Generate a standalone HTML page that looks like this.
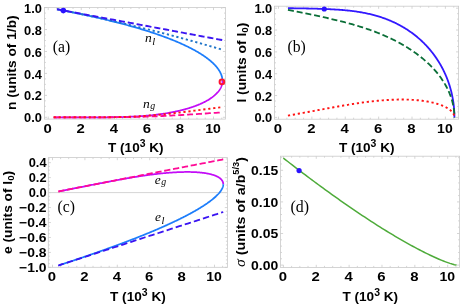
<!DOCTYPE html>
<html><head><meta charset="utf-8"><title>vdW</title>
<style>html,body{margin:0;padding:0;background:#fff;}svg{display:block;}</style>
</head><body>
<svg width="463" height="305" viewBox="0 0 463 305" style="will-change:transform">
<rect width="463" height="305" fill="#ffffff"/>
<path d="M48.20 119.10 v-2.60 M48.20 7.50 v2.60 M56.47 119.10 v-1.50 M56.47 7.50 v1.50 M64.73 119.10 v-1.50 M64.73 7.50 v1.50 M73.00 119.10 v-1.50 M73.00 7.50 v1.50 M81.26 119.10 v-2.60 M81.26 7.50 v2.60 M89.53 119.10 v-1.50 M89.53 7.50 v1.50 M97.79 119.10 v-1.50 M97.79 7.50 v1.50 M106.06 119.10 v-1.50 M106.06 7.50 v1.50 M114.32 119.10 v-2.60 M114.32 7.50 v2.60 M122.59 119.10 v-1.50 M122.59 7.50 v1.50 M130.85 119.10 v-1.50 M130.85 7.50 v1.50 M139.12 119.10 v-1.50 M139.12 7.50 v1.50 M147.38 119.10 v-2.60 M147.38 7.50 v2.60 M155.65 119.10 v-1.50 M155.65 7.50 v1.50 M163.91 119.10 v-1.50 M163.91 7.50 v1.50 M172.18 119.10 v-1.50 M172.18 7.50 v1.50 M180.44 119.10 v-2.60 M180.44 7.50 v2.60 M188.70 119.10 v-1.50 M188.70 7.50 v1.50 M196.97 119.10 v-1.50 M196.97 7.50 v1.50 M205.24 119.10 v-1.50 M205.24 7.50 v1.50 M213.50 119.10 v-2.60 M213.50 7.50 v2.60 M221.76 119.10 v-1.50 M221.76 7.50 v1.50 M44.40 117.30 h2.60 M225.50 117.30 h-2.60 M44.40 111.81 h1.50 M225.50 111.81 h-1.50 M44.40 106.33 h1.50 M225.50 106.33 h-1.50 M44.40 100.84 h1.50 M225.50 100.84 h-1.50 M44.40 95.36 h2.60 M225.50 95.36 h-2.60 M44.40 89.88 h1.50 M225.50 89.88 h-1.50 M44.40 84.39 h1.50 M225.50 84.39 h-1.50 M44.40 78.91 h1.50 M225.50 78.91 h-1.50 M44.40 73.42 h2.60 M225.50 73.42 h-2.60 M44.40 67.94 h1.50 M225.50 67.94 h-1.50 M44.40 62.45 h1.50 M225.50 62.45 h-1.50 M44.40 56.96 h1.50 M225.50 56.96 h-1.50 M44.40 51.48 h2.60 M225.50 51.48 h-2.60 M44.40 45.99 h1.50 M225.50 45.99 h-1.50 M44.40 40.51 h1.50 M225.50 40.51 h-1.50 M44.40 35.02 h1.50 M225.50 35.02 h-1.50 M44.40 29.54 h2.60 M225.50 29.54 h-2.60 M44.40 24.05 h1.50 M225.50 24.05 h-1.50 M44.40 18.57 h1.50 M225.50 18.57 h-1.50 M44.40 13.08 h1.50 M225.50 13.08 h-1.50 M44.40 7.60 h2.60 M225.50 7.60 h-2.60" stroke="#cccccc" stroke-width="0.8" fill="none"/>
<rect x="44.40" y="7.50" width="181.10" height="111.60" fill="none" stroke="#cacaca" stroke-width="0.8"/>
<path d="M53.65 117.30 L54.96 117.30 L56.25 117.30 L57.54 117.30 L58.83 117.30 L60.11 117.30 L61.38 117.30 L62.65 117.30 L63.92 117.30 L65.18 117.30 L66.44 117.30 L67.69 117.30 L68.93 117.30 L70.17 117.30 L71.41 117.30 L72.64 117.30 L73.86 117.30 L75.08 117.30 L76.30 117.30 L77.51 117.30 L78.71 117.30 L79.91 117.30 L81.11 117.30 L82.30 117.30 L83.48 117.30 L84.66 117.30 L85.84 117.30 L87.01 117.30 L88.17 117.30 L89.33 117.30 L90.49 117.30 L91.64 117.30 L92.78 117.30 L93.92 117.30 L95.06 117.30 L96.19 117.29 L97.31 117.29 L98.43 117.29 L99.55 117.29 L100.66 117.28 L101.76 117.28 L102.86 117.28 L103.95 117.27 L105.04 117.27 L106.13 117.26 L107.21 117.25 L108.28 117.25 L109.35 117.24 L110.41 117.23 L111.47 117.22 L112.53 117.20 L113.58 117.19 L114.62 117.18 L115.66 117.16 L116.69 117.14 L117.72 117.12 L118.75 117.10 L119.77 117.08 L120.78 117.06 L121.79 117.03 L122.79 117.01 L123.79 116.98 L124.79 116.95 L125.77 116.92 L126.76 116.88 L127.74 116.85 L128.71 116.81 L129.68 116.77 L130.64 116.73 L131.60 116.69 L132.55 116.65 L133.50 116.60 L134.45 116.55 L135.38 116.50 L136.32 116.45 L137.25 116.39 L138.17 116.34 L139.09 116.28 L140.00 116.22 L140.91 116.16 L141.81 116.09 L142.71 116.03 L143.60 115.96 L144.49 115.89 L145.38 115.82 L146.25 115.74 L147.13 115.67 L147.99 115.59 L148.86 115.51 L149.72 115.42 L150.57 115.34 L151.42 115.25 L152.26 115.17 L153.10 115.07 L153.93 114.98 L154.76 114.89 L155.58 114.79 L156.40 114.69 L157.21 114.59 L158.02 114.49 L158.82 114.39 L159.62 114.28 L160.41 114.17 L161.20 114.06 L161.98 113.95 L162.76 113.84 L163.53 113.72 L164.30 113.61 L165.06 113.49 L165.82 113.36 L166.57 113.24 L167.32 113.12 L168.06 112.99 L168.80 112.86 L169.53 112.73 L170.26 112.60 L170.98 112.47 L171.69 112.33 L172.41 112.19 L173.11 112.06 L173.82 111.92 L174.51 111.77 L175.20 111.63 L175.89 111.48 L176.57 111.34 L177.25 111.19 L177.92 111.04 L178.59 110.88 L179.25 110.73 L179.91 110.58 L180.56 110.42 L181.21 110.26 L181.85 110.10 L182.48 109.94 L183.11 109.78 L183.74 109.61 L184.36 109.44 L184.98 109.28 L185.59 109.11 L186.20 108.94 L186.80 108.76 L187.39 108.59 L187.99 108.42 L188.57 108.24 L189.15 108.06 L189.73 107.88 L190.30 107.70 L190.87 107.52 L191.43 107.34 L191.98 107.15 L192.53 106.96 L193.08 106.78 L193.62 106.59 L194.16 106.40 L194.69 106.21 L195.21 106.01 L195.73 105.82 L196.25 105.62 L196.76 105.43 L197.27 105.23 L197.77 105.03 L198.26 104.83 L198.75 104.63 L199.24 104.43 L199.72 104.22 L200.20 104.02 L200.67 103.81 L201.13 103.60 L201.59 103.39 L202.05 103.18 L202.50 102.97 L202.94 102.76 L203.38 102.55 L203.82 102.33 L204.25 102.12 L204.67 101.90 L205.09 101.68 L205.51 101.47 L205.92 101.25 L206.32 101.03 L206.72 100.80 L207.12 100.58 L207.51 100.36 L207.89 100.13 L208.27 99.91 L208.65 99.68 L209.02 99.45 L209.38 99.22 L209.74 98.99 L210.10 98.76 L210.45 98.53 L210.79 98.30 L211.13 98.06 L211.47 97.83 L211.80 97.60 L212.12 97.36 L212.44 97.12 L212.75 96.88 L213.06 96.64 L213.37 96.41 L213.67 96.16 L213.96 95.92 L214.25 95.68 L214.54 95.44 L214.82 95.19 L215.09 94.95 L215.36 94.70 L215.62 94.46 L215.88 94.21 L216.14 93.96 L216.39 93.71 L216.63 93.46 L216.87 93.21 L217.10 92.96 L217.33 92.71 L217.56 92.46 L217.77 92.21 L217.99 91.95 L218.20 91.70 L218.40 91.44 L218.60 91.19 L218.79 90.93 L218.98 90.67 L219.17 90.41 L219.34 90.15 L219.52 89.90 L219.69 89.64 L219.85 89.37 L220.01 89.11 L220.16 88.85 L220.31 88.59 L220.45 88.33 L220.59 88.06 L220.73 87.80 L220.85 87.53 L220.98 87.27 L221.10 87.00 L221.21 86.73 L221.32 86.47 L221.42 86.20 L221.52 85.93 L221.61 85.66 L221.70 85.39 L221.78 85.12 L221.86 84.85 L221.93 84.58 L222.00 84.31 L222.06 84.04 L222.12 83.76 L222.17 83.49 L222.22 83.22 L222.27 82.94 L222.30 82.67 L222.34 82.39 L222.36 82.12 L222.39 81.84 L222.40 81.56 L222.42 81.28 L222.42 81.00 L222.43 80.74" fill="none" stroke="#c30cf7" stroke-width="1.75" stroke-linecap="butt" stroke-linejoin="round" />
<path d="M57.54 9.37 L58.83 9.62 L60.11 9.87 L61.38 10.12 L62.65 10.37 L63.92 10.62 L65.18 10.87 L66.44 11.11 L67.69 11.36 L68.93 11.61 L70.17 11.86 L71.41 12.12 L72.64 12.37 L73.86 12.62 L75.08 12.87 L76.30 13.12 L77.51 13.37 L78.71 13.62 L79.91 13.88 L81.11 14.13 L82.30 14.38 L83.48 14.63 L84.66 14.89 L85.84 15.14 L87.01 15.39 L88.17 15.65 L89.33 15.90 L90.49 16.16 L91.64 16.41 L92.78 16.67 L93.92 16.92 L95.06 17.18 L96.19 17.43 L97.31 17.69 L98.43 17.95 L99.55 18.20 L100.66 18.46 L101.76 18.72 L102.86 18.98 L103.95 19.24 L105.04 19.49 L106.13 19.75 L107.21 20.01 L108.28 20.27 L109.35 20.53 L110.41 20.79 L111.47 21.05 L112.53 21.31 L113.58 21.58 L114.62 21.84 L115.66 22.10 L116.69 22.36 L117.72 22.62 L118.75 22.89 L119.77 23.15 L120.78 23.42 L121.79 23.68 L122.79 23.95 L123.79 24.21 L124.79 24.48 L125.77 24.74 L126.76 25.01 L127.74 25.27 L128.71 25.54 L129.68 25.81 L130.64 26.08 L131.60 26.35 L132.55 26.61 L133.50 26.88 L134.45 27.15 L135.38 27.42 L136.32 27.69 L137.25 27.96 L138.17 28.23 L139.09 28.50 L140.00 28.78 L140.91 29.05 L141.81 29.32 L142.71 29.59 L143.60 29.87 L144.49 30.14 L145.38 30.41 L146.25 30.69 L147.13 30.96 L147.99 31.24 L148.86 31.51 L149.72 31.79 L150.57 32.06 L151.42 32.34 L152.26 32.62 L153.10 32.89 L153.93 33.17 L154.76 33.45 L155.58 33.73 L156.40 34.01 L157.21 34.28 L158.02 34.56 L158.82 34.84 L159.62 35.12 L160.41 35.40 L161.20 35.68 L161.98 35.96 L162.76 36.24 L163.53 36.52 L164.30 36.81 L165.06 37.09 L165.82 37.37 L166.57 37.65 L167.32 37.94 L168.06 38.22 L168.80 38.50 L169.53 38.79 L170.26 39.07 L170.98 39.35 L171.69 39.64 L172.41 39.92 L173.11 40.21 L173.82 40.49 L174.51 40.78 L175.20 41.06 L175.89 41.35 L176.57 41.64 L177.25 41.92 L177.92 42.21 L178.59 42.50 L179.25 42.78 L179.91 43.07 L180.56 43.36 L181.21 43.65 L181.85 43.93 L182.48 44.22 L183.11 44.51 L183.74 44.80 L184.36 45.09 L184.98 45.38 L185.59 45.67 L186.20 45.96 L186.80 46.25 L187.39 46.54 L187.99 46.83 L188.57 47.12 L189.15 47.41 L189.73 47.70 L190.30 47.99 L190.87 48.28 L191.43 48.57 L191.98 48.86 L192.53 49.15 L193.08 49.44 L193.62 49.74 L194.16 50.03 L194.69 50.32 L195.21 50.61 L195.73 50.90 L196.25 51.20 L196.76 51.49 L197.27 51.78 L197.77 52.07 L198.26 52.37 L198.75 52.66 L199.24 52.95 L199.72 53.24 L200.20 53.54 L200.67 53.83 L201.13 54.12 L201.59 54.42 L202.05 54.71 L202.50 55.00 L202.94 55.30 L203.38 55.59 L203.82 55.88 L204.25 56.18 L204.67 56.47 L205.09 56.76 L205.51 57.06 L205.92 57.35 L206.32 57.64 L206.72 57.94 L207.12 58.23 L207.51 58.52 L207.89 58.82 L208.27 59.11 L208.65 59.41 L209.02 59.70 L209.38 59.99 L209.74 60.29 L210.10 60.58 L210.45 60.87 L210.79 61.17 L211.13 61.46 L211.47 61.75 L211.80 62.05 L212.12 62.34 L212.44 62.63 L212.75 62.93 L213.06 63.22 L213.37 63.51 L213.67 63.80 L213.96 64.10 L214.25 64.39 L214.54 64.68 L214.82 64.97 L215.09 65.27 L215.36 65.56 L215.62 65.85 L215.88 66.14 L216.14 66.43 L216.39 66.73 L216.63 67.02 L216.87 67.31 L217.10 67.60 L217.33 67.89 L217.56 68.18 L217.77 68.47 L217.99 68.76 L218.20 69.05 L218.40 69.34 L218.60 69.63 L218.79 69.92 L218.98 70.21 L219.17 70.50 L219.34 70.79 L219.52 71.08 L219.69 71.37 L219.85 71.66 L220.01 71.95 L220.16 72.23 L220.31 72.52 L220.45 72.81 L220.59 73.10 L220.73 73.38 L220.85 73.67 L220.98 73.96 L221.10 74.24 L221.21 74.53 L221.32 74.81 L221.42 75.10 L221.52 75.38 L221.61 75.67 L221.70 75.95 L221.78 76.24 L221.86 76.52 L221.93 76.80 L222.00 77.09 L222.06 77.37 L222.12 77.65 L222.17 77.93 L222.22 78.22 L222.27 78.50 L222.30 78.78 L222.34 79.06 L222.36 79.34 L222.39 79.62 L222.40 79.90 L222.42 80.18 L222.42 80.46 L222.43 80.73" fill="none" stroke="#1c7dfb" stroke-width="1.75" stroke-linecap="butt" stroke-linejoin="round" />
<path d="M53.65 117.30 L55.79 117.30 L57.93 117.30 L60.06 117.30 L62.20 117.30 L64.34 117.30 L66.47 117.30 L68.61 117.30 L70.75 117.30 L72.88 117.30 L75.02 117.30 L77.15 117.30 L79.29 117.30 L81.43 117.30 L83.56 117.30 L85.70 117.30 L87.84 117.30 L89.97 117.30 L92.11 117.30 L94.25 117.30 L96.38 117.30 L98.52 117.30 L100.65 117.29 L102.79 117.29 L104.93 117.29 L107.06 117.28 L109.20 117.27 L111.34 117.26 L113.47 117.25 L115.61 117.24 L117.75 117.22 L119.88 117.20 L122.02 117.18 L124.15 117.16 L126.29 117.13 L128.43 117.09 L130.56 117.06 L132.70 117.02 L134.84 116.97 L136.97 116.92 L139.11 116.87 L141.25 116.81 L143.38 116.75 L145.52 116.69 L147.65 116.62 L149.79 116.54 L151.93 116.46 L154.06 116.38 L156.20 116.29 L158.34 116.20 L160.47 116.11 L162.61 116.01 L164.74 115.91 L166.88 115.81 L169.02 115.70 L171.15 115.59 L173.29 115.47 L175.43 115.36 L177.56 115.24 L179.70 115.11 L181.84 114.99 L183.97 114.86 L186.11 114.73 L188.24 114.60 L190.38 114.47 L192.52 114.34 L194.65 114.20 L196.79 114.06 L198.93 113.93 L201.06 113.79 L203.20 113.65 L205.34 113.50 L207.47 113.36 L209.61 113.22 L211.74 113.08 L213.88 112.93 L216.02 112.79 L218.15 112.65 L220.29 112.50 L222.43 112.36" fill="none" stroke="#ff0a96" stroke-width="1.8" stroke-linecap="butt" stroke-linejoin="round" stroke-dasharray="6 2.9" />
<path d="M53.65 117.30 L55.79 117.30 L57.93 117.30 L60.06 117.30 L62.20 117.30 L64.34 117.30 L66.47 117.30 L68.61 117.30 L70.75 117.30 L72.88 117.30 L75.02 117.30 L77.15 117.30 L79.29 117.30 L81.43 117.30 L83.56 117.30 L85.70 117.30 L87.84 117.30 L89.97 117.30 L92.11 117.30 L94.25 117.30 L96.38 117.29 L98.52 117.29 L100.65 117.28 L102.79 117.28 L104.93 117.27 L107.06 117.25 L109.20 117.24 L111.34 117.21 L113.47 117.19 L115.61 117.16 L117.75 117.12 L119.88 117.07 L122.02 117.02 L124.15 116.96 L126.29 116.89 L128.43 116.82 L130.56 116.73 L132.70 116.64 L134.84 116.54 L136.97 116.43 L139.11 116.31 L141.25 116.18 L143.38 116.04 L145.52 115.89 L147.65 115.74 L149.79 115.57 L151.93 115.40 L154.06 115.21 L156.20 115.03 L158.34 114.83 L160.47 114.62 L162.61 114.41 L164.74 114.19 L166.88 113.97 L169.02 113.74 L171.15 113.50 L173.29 113.26 L175.43 113.01 L177.56 112.76 L179.70 112.51 L181.84 112.25 L183.97 111.99 L186.11 111.72 L188.24 111.46 L190.38 111.19 L192.52 110.92 L194.65 110.65 L196.79 110.37 L198.93 110.10 L201.06 109.82 L203.20 109.55 L205.34 109.28 L207.47 109.00 L209.61 108.73 L211.74 108.45 L213.88 108.18 L216.02 107.91 L218.15 107.64 L220.29 107.38 L222.43 107.11" fill="none" stroke="#ff1414" stroke-width="1.9" stroke-linecap="butt" stroke-linejoin="round" stroke-dasharray="2.2 2.8" />
<path d="M56.96 9.26 L59.06 9.66 L61.15 10.07 L63.24 10.48 L65.34 10.89 L67.43 11.31 L69.53 11.72 L71.62 12.14 L73.72 12.57 L75.81 12.99 L77.91 13.42 L80.00 13.85 L82.09 14.29 L84.19 14.73 L86.28 15.17 L88.38 15.61 L90.47 16.05 L92.57 16.50 L94.66 16.95 L96.76 17.41 L98.85 17.86 L100.95 18.32 L103.04 18.79 L105.13 19.25 L107.23 19.72 L109.32 20.19 L111.42 20.66 L113.51 21.14 L115.61 21.62 L117.70 22.10 L119.80 22.58 L121.89 23.07 L123.98 23.56 L126.08 24.05 L128.17 24.55 L130.27 25.05 L132.36 25.55 L134.46 26.05 L136.55 26.56 L138.65 27.07 L140.74 27.58 L142.84 28.10 L144.93 28.61 L147.02 29.14 L149.12 29.66 L151.21 30.19 L153.31 30.71 L155.40 31.25 L157.50 31.78 L159.59 32.32 L161.69 32.86 L163.78 33.40 L165.87 33.95 L167.97 34.50 L170.06 35.05 L172.16 35.60 L174.25 36.16 L176.35 36.72 L178.44 37.28 L180.54 37.85 L182.63 38.41 L184.73 38.98 L186.82 39.56 L188.91 40.13 L191.01 40.71 L193.10 41.29 L195.20 41.88 L197.29 42.47 L199.39 43.06 L201.48 43.65 L203.58 44.25 L205.67 44.85 L207.76 45.45 L209.86 46.05 L211.95 46.66 L214.05 47.27 L216.14 47.88 L218.24 48.50 L220.33 49.11 L222.43 49.73" fill="none" stroke="#1e74c8" stroke-width="1.9" stroke-linecap="butt" stroke-linejoin="round" stroke-dasharray="2.2 2.7" />
<path d="M56.96 9.23 L59.06 9.63 L61.15 10.02 L63.24 10.41 L65.34 10.80 L67.43 11.19 L69.53 11.58 L71.62 11.97 L73.72 12.36 L75.81 12.75 L77.91 13.14 L80.00 13.53 L82.09 13.92 L84.19 14.31 L86.28 14.70 L88.38 15.10 L90.47 15.49 L92.57 15.88 L94.66 16.27 L96.76 16.66 L98.85 17.05 L100.95 17.44 L103.04 17.83 L105.13 18.22 L107.23 18.61 L109.32 19.00 L111.42 19.39 L113.51 19.78 L115.61 20.18 L117.70 20.57 L119.80 20.96 L121.89 21.35 L123.98 21.74 L126.08 22.13 L128.17 22.52 L130.27 22.91 L132.36 23.30 L134.46 23.69 L136.55 24.08 L138.65 24.47 L140.74 24.86 L142.84 25.26 L144.93 25.65 L147.02 26.04 L149.12 26.43 L151.21 26.82 L153.31 27.21 L155.40 27.60 L157.50 27.99 L159.59 28.38 L161.69 28.77 L163.78 29.16 L165.87 29.55 L167.97 29.94 L170.06 30.33 L172.16 30.73 L174.25 31.12 L176.35 31.51 L178.44 31.90 L180.54 32.29 L182.63 32.68 L184.73 33.07 L186.82 33.46 L188.91 33.85 L191.01 34.24 L193.10 34.63 L195.20 35.02 L197.29 35.41 L199.39 35.81 L201.48 36.20 L203.58 36.59 L205.67 36.98 L207.76 37.37 L209.86 37.76 L211.95 38.15 L214.05 38.54 L216.14 38.93 L218.24 39.32 L220.33 39.71 L222.43 40.10" fill="none" stroke="#3a14f2" stroke-width="1.9" stroke-linecap="butt" stroke-linejoin="round" stroke-dasharray="6.1 2.9" />
<circle cx="63.32" cy="10.61" r="2.8" fill="#2a12ff"/>
<circle cx="221.90" cy="81.90" r="2.3" fill="none" stroke="#ff1430" stroke-width="2"/>
<text x="41.90" y="12.70" font-family="'Liberation Sans', sans-serif" font-size="12.80px" font-weight="bold" font-style="normal" text-anchor="end" >1.0</text>
<text x="41.90" y="34.64" font-family="'Liberation Sans', sans-serif" font-size="12.80px" font-weight="bold" font-style="normal" text-anchor="end" >0.8</text>
<text x="41.90" y="56.58" font-family="'Liberation Sans', sans-serif" font-size="12.80px" font-weight="bold" font-style="normal" text-anchor="end" >0.6</text>
<text x="41.90" y="78.52" font-family="'Liberation Sans', sans-serif" font-size="12.80px" font-weight="bold" font-style="normal" text-anchor="end" >0.4</text>
<text x="41.90" y="100.46" font-family="'Liberation Sans', sans-serif" font-size="12.80px" font-weight="bold" font-style="normal" text-anchor="end" >0.2</text>
<text x="41.90" y="122.40" font-family="'Liberation Sans', sans-serif" font-size="12.80px" font-weight="bold" font-style="normal" text-anchor="end" >0.0</text>
<text x="47.70" y="133.20" font-family="'Liberation Sans', sans-serif" font-size="12.80px" font-weight="bold" font-style="normal" text-anchor="middle" textLength="8.30" lengthAdjust="spacingAndGlyphs" >0</text>
<text x="80.76" y="133.20" font-family="'Liberation Sans', sans-serif" font-size="12.80px" font-weight="bold" font-style="normal" text-anchor="middle" textLength="8.30" lengthAdjust="spacingAndGlyphs" >2</text>
<text x="113.82" y="133.20" font-family="'Liberation Sans', sans-serif" font-size="12.80px" font-weight="bold" font-style="normal" text-anchor="middle" textLength="8.30" lengthAdjust="spacingAndGlyphs" >4</text>
<text x="146.88" y="133.20" font-family="'Liberation Sans', sans-serif" font-size="12.80px" font-weight="bold" font-style="normal" text-anchor="middle" textLength="8.30" lengthAdjust="spacingAndGlyphs" >6</text>
<text x="179.94" y="133.20" font-family="'Liberation Sans', sans-serif" font-size="12.80px" font-weight="bold" font-style="normal" text-anchor="middle" textLength="8.30" lengthAdjust="spacingAndGlyphs" >8</text>
<text x="213.00" y="133.20" font-family="'Liberation Sans', sans-serif" font-size="12.80px" font-weight="bold" font-style="normal" text-anchor="middle" textLength="15.60" lengthAdjust="spacingAndGlyphs" >10</text>
<text x="108.10" y="152.20" font-family="'Liberation Sans', sans-serif" font-size="13.50px" font-weight="bold" textLength="55.40" lengthAdjust="spacingAndGlyphs">T (10<tspan dy="-4.9" font-size="10.39px">3</tspan><tspan dy="4.9"> K)</tspan></text>
<text transform="translate(16.10 110.00) rotate(-90)" font-family="'Liberation Sans', sans-serif" font-size="13.50px" font-weight="bold" textLength="94.60" lengthAdjust="spacingAndGlyphs">n (units of 1/b)</text>
<text x="52.80" y="52.20" font-family="'Liberation Serif', sans-serif" font-size="15.70px" font-weight="normal" font-style="normal" text-anchor="start" >(a)</text>
<text x="145.00" y="42.30" font-family="'Liberation Serif', sans-serif" font-size="13.50px" font-weight="normal" font-style="italic" text-anchor="start" >n<tspan dx="0.5" dy="2.3" font-size="10.5px">l</tspan></text>
<text x="143.00" y="107.60" font-family="'Liberation Serif', sans-serif" font-size="13.50px" font-weight="normal" font-style="italic" text-anchor="start" >n<tspan dx="0.5" dy="1.5" font-size="9.8px">g</tspan></text>
<path d="M278.50 119.20 v-2.60 M278.50 6.20 v2.60 M286.85 119.20 v-1.50 M286.85 6.20 v1.50 M295.19 119.20 v-1.50 M295.19 6.20 v1.50 M303.54 119.20 v-1.50 M303.54 6.20 v1.50 M311.88 119.20 v-2.60 M311.88 6.20 v2.60 M320.23 119.20 v-1.50 M320.23 6.20 v1.50 M328.57 119.20 v-1.50 M328.57 6.20 v1.50 M336.92 119.20 v-1.50 M336.92 6.20 v1.50 M345.26 119.20 v-2.60 M345.26 6.20 v2.60 M353.61 119.20 v-1.50 M353.61 6.20 v1.50 M361.95 119.20 v-1.50 M361.95 6.20 v1.50 M370.30 119.20 v-1.50 M370.30 6.20 v1.50 M378.64 119.20 v-2.60 M378.64 6.20 v2.60 M386.99 119.20 v-1.50 M386.99 6.20 v1.50 M395.33 119.20 v-1.50 M395.33 6.20 v1.50 M403.68 119.20 v-1.50 M403.68 6.20 v1.50 M412.02 119.20 v-2.60 M412.02 6.20 v2.60 M420.37 119.20 v-1.50 M420.37 6.20 v1.50 M428.71 119.20 v-1.50 M428.71 6.20 v1.50 M437.06 119.20 v-1.50 M437.06 6.20 v1.50 M445.40 119.20 v-2.60 M445.40 6.20 v2.60 M453.75 119.20 v-1.50 M453.75 6.20 v1.50 M274.50 117.40 h2.60 M458.60 117.40 h-2.60 M274.50 111.94 h1.50 M458.60 111.94 h-1.50 M274.50 106.48 h1.50 M458.60 106.48 h-1.50 M274.50 101.02 h1.50 M458.60 101.02 h-1.50 M274.50 95.56 h2.60 M458.60 95.56 h-2.60 M274.50 90.10 h1.50 M458.60 90.10 h-1.50 M274.50 84.64 h1.50 M458.60 84.64 h-1.50 M274.50 79.18 h1.50 M458.60 79.18 h-1.50 M274.50 73.72 h2.60 M458.60 73.72 h-2.60 M274.50 68.26 h1.50 M458.60 68.26 h-1.50 M274.50 62.80 h1.50 M458.60 62.80 h-1.50 M274.50 57.34 h1.50 M458.60 57.34 h-1.50 M274.50 51.88 h2.60 M458.60 51.88 h-2.60 M274.50 46.42 h1.50 M458.60 46.42 h-1.50 M274.50 40.96 h1.50 M458.60 40.96 h-1.50 M274.50 35.50 h1.50 M458.60 35.50 h-1.50 M274.50 30.04 h2.60 M458.60 30.04 h-2.60 M274.50 24.58 h1.50 M458.60 24.58 h-1.50 M274.50 19.12 h1.50 M458.60 19.12 h-1.50 M274.50 13.66 h1.50 M458.60 13.66 h-1.50 M274.50 8.20 h2.60 M458.60 8.20 h-2.60" stroke="#cccccc" stroke-width="0.8" fill="none"/>
<rect x="274.50" y="6.20" width="184.10" height="113.00" fill="none" stroke="#cacaca" stroke-width="0.8"/>
<path d="M287.93 8.23 L289.23 8.24 L290.52 8.25 L291.81 8.26 L293.09 8.27 L294.37 8.28 L295.64 8.30 L296.91 8.31 L298.17 8.33 L299.43 8.35 L300.68 8.37 L301.93 8.39 L303.17 8.41 L304.41 8.43 L305.64 8.45 L306.87 8.48 L308.09 8.50 L309.31 8.53 L310.52 8.56 L311.73 8.59 L312.93 8.62 L314.13 8.65 L315.32 8.68 L316.50 8.72 L317.68 8.75 L318.86 8.79 L320.03 8.83 L321.20 8.87 L322.36 8.91 L323.51 8.95 L324.66 9.00 L325.81 9.04 L326.95 9.09 L328.09 9.14 L329.22 9.19 L330.34 9.24 L331.46 9.30 L332.58 9.36 L333.69 9.42 L334.79 9.48 L335.89 9.55 L336.99 9.62 L338.08 9.69 L339.16 9.77 L340.24 9.84 L341.32 9.92 L342.39 10.01 L343.45 10.10 L344.51 10.19 L345.56 10.29 L346.61 10.39 L347.66 10.49 L348.70 10.60 L349.73 10.71 L350.76 10.83 L351.78 10.95 L352.80 11.08 L353.81 11.21 L354.82 11.34 L355.83 11.48 L356.82 11.63 L357.82 11.78 L358.81 11.93 L359.79 12.09 L360.77 12.25 L361.74 12.42 L362.71 12.60 L363.67 12.78 L364.63 12.96 L365.58 13.15 L366.53 13.35 L367.47 13.55 L368.41 13.76 L369.34 13.97 L370.27 14.19 L371.19 14.41 L372.11 14.64 L373.02 14.87 L373.93 15.11 L374.83 15.35 L375.72 15.60 L376.62 15.86 L377.50 16.12 L378.38 16.38 L379.26 16.65 L380.13 16.93 L381.00 17.21 L381.86 17.50 L382.72 17.79 L383.57 18.09 L384.41 18.39 L385.25 18.70 L386.09 19.01 L386.92 19.33 L387.75 19.65 L388.57 19.98 L389.38 20.32 L390.19 20.66 L391.00 21.00 L391.80 21.35 L392.59 21.70 L393.38 22.06 L394.17 22.43 L394.95 22.80 L395.72 23.17 L396.49 23.55 L397.26 23.94 L398.02 24.33 L398.77 24.72 L399.52 25.12 L400.26 25.52 L401.00 25.93 L401.74 26.34 L402.47 26.76 L403.19 27.18 L403.91 27.61 L404.62 28.04 L405.33 28.48 L406.04 28.92 L406.73 29.36 L407.43 29.81 L408.12 30.26 L408.80 30.72 L409.48 31.18 L410.15 31.65 L410.82 32.12 L411.48 32.59 L412.14 33.07 L412.79 33.56 L413.44 34.04 L414.08 34.53 L414.72 35.03 L415.35 35.53 L415.98 36.03 L416.60 36.54 L417.22 37.05 L417.83 37.57 L418.44 38.08 L419.04 38.61 L419.64 39.13 L420.23 39.66 L420.82 40.20 L421.40 40.74 L421.98 41.28 L422.55 41.82 L423.11 42.37 L423.68 42.92 L424.23 43.47 L424.78 44.03 L425.33 44.59 L425.87 45.16 L426.41 45.73 L426.94 46.30 L427.46 46.88 L427.98 47.45 L428.50 48.04 L429.01 48.62 L429.52 49.21 L430.02 49.80 L430.51 50.39 L431.00 50.99 L431.49 51.59 L431.97 52.19 L432.44 52.80 L432.91 53.41 L433.38 54.02 L433.84 54.63 L434.29 55.25 L434.74 55.87 L435.19 56.49 L435.62 57.12 L436.06 57.75 L436.49 58.38 L436.91 59.01 L437.33 59.64 L437.75 60.28 L438.15 60.92 L438.56 61.57 L438.96 62.21 L439.35 62.86 L439.74 63.51 L440.12 64.16 L440.50 64.82 L440.88 65.47 L441.24 66.13 L441.61 66.79 L441.97 67.46 L442.32 68.12 L442.67 68.79 L443.01 69.46 L443.35 70.13 L443.68 70.81 L444.01 71.48 L444.33 72.16 L444.65 72.84 L444.96 73.52 L445.27 74.20 L445.57 74.89 L445.87 75.57 L446.16 76.26 L446.45 76.96 L446.73 77.65 L447.01 78.34 L447.28 79.03 L447.54 79.73 L447.81 80.43 L448.06 81.13 L448.31 81.83 L448.56 82.54 L448.80 83.24 L449.04 83.95 L449.27 84.65 L449.49 85.36 L449.72 86.07 L449.93 86.78 L450.14 87.49 L450.35 88.21 L450.55 88.92 L450.74 89.64 L450.93 90.35 L451.12 91.07 L451.30 91.79 L451.48 92.51 L451.65 93.23 L451.81 93.95 L451.97 94.68 L452.13 95.40 L452.28 96.13 L452.42 96.85 L452.56 97.58 L452.70 98.31 L452.82 99.03 L452.95 99.76 L453.07 100.49 L453.18 101.22 L453.29 101.95 L453.40 102.69 L453.50 103.42 L453.59 104.15 L453.68 104.88 L453.76 105.62 L453.84 106.35 L453.91 107.09 L453.98 107.82 L454.05 108.56 L454.11 109.29 L454.16 110.03 L454.21 110.77 L454.25 111.50 L454.29 112.24 L454.32 112.98 L454.35 113.71 L454.37 114.45 L454.39 115.20 L454.40 115.94 L454.41 116.69 L454.41 117.39" fill="none" stroke="#3218ff" stroke-width="1.8" stroke-linecap="butt" stroke-linejoin="round" />
<path d="M287.93 9.96 L289.23 10.21 L290.52 10.46 L291.81 10.71 L293.09 10.95 L294.37 11.20 L295.64 11.45 L296.91 11.70 L298.17 11.95 L299.43 12.20 L300.68 12.45 L301.93 12.69 L303.17 12.94 L304.41 13.19 L305.64 13.44 L306.87 13.69 L308.09 13.95 L309.31 14.20 L310.52 14.45 L311.73 14.70 L312.93 14.95 L314.13 15.20 L315.32 15.45 L316.50 15.71 L317.68 15.96 L318.86 16.21 L320.03 16.47 L321.20 16.72 L322.36 16.97 L323.51 17.23 L324.66 17.48 L325.81 17.74 L326.95 17.99 L328.09 18.25 L329.22 18.51 L330.34 18.77 L331.46 19.03 L332.58 19.29 L333.69 19.55 L334.79 19.81 L335.89 20.07 L336.99 20.34 L338.08 20.60 L339.16 20.87 L340.24 21.14 L341.32 21.40 L342.39 21.68 L343.45 21.95 L344.51 22.22 L345.56 22.50 L346.61 22.77 L347.66 23.05 L348.70 23.33 L349.73 23.61 L350.76 23.90 L351.78 24.18 L352.80 24.47 L353.81 24.76 L354.82 25.05 L355.83 25.35 L356.82 25.64 L357.82 25.94 L358.81 26.24 L359.79 26.55 L360.77 26.85 L361.74 27.16 L362.71 27.47 L363.67 27.78 L364.63 28.09 L365.58 28.41 L366.53 28.73 L367.47 29.05 L368.41 29.37 L369.34 29.70 L370.27 30.02 L371.19 30.36 L372.11 30.69 L373.02 31.02 L373.93 31.36 L374.83 31.70 L375.72 32.04 L376.62 32.39 L377.50 32.73 L378.38 33.08 L379.26 33.43 L380.13 33.79 L381.00 34.14 L381.86 34.50 L382.72 34.86 L383.57 35.23 L384.41 35.59 L385.25 35.96 L386.09 36.33 L386.92 36.70 L387.75 37.08 L388.57 37.46 L389.38 37.84 L390.19 38.22 L391.00 38.60 L391.80 38.99 L392.59 39.38 L393.38 39.77 L394.17 40.16 L394.95 40.55 L395.72 40.95 L396.49 41.35 L397.26 41.75 L398.02 42.16 L398.77 42.56 L399.52 42.97 L400.26 43.38 L401.00 43.79 L401.74 44.20 L402.47 44.62 L403.19 45.04 L403.91 45.46 L404.62 45.88 L405.33 46.30 L406.04 46.73 L406.73 47.16 L407.43 47.59 L408.12 48.02 L408.80 48.45 L409.48 48.89 L410.15 49.32 L410.82 49.76 L411.48 50.20 L412.14 50.65 L412.79 51.09 L413.44 51.54 L414.08 51.98 L414.72 52.43 L415.35 52.88 L415.98 53.34 L416.60 53.79 L417.22 54.25 L417.83 54.71 L418.44 55.17 L419.04 55.63 L419.64 56.09 L420.23 56.56 L420.82 57.02 L421.40 57.49 L421.98 57.96 L422.55 58.43 L423.11 58.90 L423.68 59.38 L424.23 59.85 L424.78 60.33 L425.33 60.81 L425.87 61.29 L426.41 61.77 L426.94 62.25 L427.46 62.73 L427.98 63.22 L428.50 63.71 L429.01 64.19 L429.52 64.68 L430.02 65.17 L430.51 65.67 L431.00 66.16 L431.49 66.65 L431.97 67.15 L432.44 67.65 L432.91 68.14 L433.38 68.64 L433.84 69.15 L434.29 69.65 L434.74 70.15 L435.19 70.66 L435.62 71.16 L436.06 71.67 L436.49 72.17 L436.91 72.68 L437.33 73.19 L437.75 73.70 L438.15 74.22 L438.56 74.73 L438.96 75.24 L439.35 75.76 L439.74 76.27 L440.12 76.79 L440.50 77.31 L440.88 77.83 L441.24 78.35 L441.61 78.87 L441.97 79.39 L442.32 79.91 L442.67 80.44 L443.01 80.96 L443.35 81.49 L443.68 82.01 L444.01 82.54 L444.33 83.07 L444.65 83.60 L444.96 84.13 L445.27 84.66 L445.57 85.19 L445.87 85.72 L446.16 86.25 L446.45 86.78 L446.73 87.32 L447.01 87.85 L447.28 88.39 L447.54 88.92 L447.81 89.46 L448.06 90.00 L448.31 90.54 L448.56 91.07 L448.80 91.61 L449.04 92.15 L449.27 92.69 L449.49 93.24 L449.72 93.77 L449.93 94.32 L450.14 94.86 L450.35 95.40 L450.55 95.95 L450.74 96.49 L450.93 97.03 L451.12 97.58 L451.30 98.12 L451.48 98.67 L451.65 99.22 L451.81 99.76 L451.97 100.31 L452.13 100.86 L452.28 101.41 L452.42 101.95 L452.56 102.50 L452.70 103.05 L452.82 103.60 L452.95 104.15 L453.07 104.70 L453.18 105.25 L453.29 105.80 L453.40 106.35 L453.50 106.90 L453.59 107.45 L453.68 108.01 L453.76 108.56 L453.84 109.11 L453.91 109.66 L453.98 110.21 L454.05 110.77 L454.11 111.32 L454.16 111.87 L454.21 112.42 L454.25 112.98 L454.29 113.53 L454.32 114.08 L454.35 114.63 L454.37 115.19 L454.39 115.75 L454.40 116.30 L454.41 116.86 L454.41 117.40" fill="none" stroke="#0a6e37" stroke-width="1.8" stroke-linecap="butt" stroke-linejoin="round" stroke-dasharray="6 2.9" />
<path d="M287.93 115.67 L289.23 115.43 L290.52 115.19 L291.81 114.95 L293.09 114.72 L294.37 114.48 L295.64 114.25 L296.91 114.01 L298.17 113.78 L299.43 113.55 L300.68 113.32 L301.93 113.09 L303.17 112.86 L304.41 112.63 L305.64 112.41 L306.87 112.18 L308.09 111.96 L309.31 111.73 L310.52 111.51 L311.73 111.29 L312.93 111.07 L314.13 110.85 L315.32 110.63 L316.50 110.41 L317.68 110.19 L318.86 109.98 L320.03 109.76 L321.20 109.55 L322.36 109.33 L323.51 109.12 L324.66 108.91 L325.81 108.70 L326.95 108.49 L328.09 108.29 L329.22 108.08 L330.34 107.88 L331.46 107.67 L332.58 107.47 L333.69 107.27 L334.79 107.07 L335.89 106.88 L336.99 106.68 L338.08 106.49 L339.16 106.30 L340.24 106.11 L341.32 105.92 L342.39 105.73 L343.45 105.55 L344.51 105.37 L345.56 105.19 L346.61 105.01 L347.66 104.84 L348.70 104.67 L349.73 104.50 L350.76 104.33 L351.78 104.17 L352.80 104.00 L353.81 103.84 L354.82 103.69 L355.83 103.53 L356.82 103.38 L357.82 103.23 L358.81 103.09 L359.79 102.94 L360.77 102.80 L361.74 102.67 L362.71 102.53 L363.67 102.40 L364.63 102.27 L365.58 102.15 L366.53 102.02 L367.47 101.90 L368.41 101.79 L369.34 101.67 L370.27 101.56 L371.19 101.45 L372.11 101.35 L373.02 101.25 L373.93 101.15 L374.83 101.05 L375.72 100.96 L376.62 100.87 L377.50 100.78 L378.38 100.70 L379.26 100.62 L380.13 100.54 L381.00 100.47 L381.86 100.39 L382.72 100.33 L383.57 100.26 L384.41 100.20 L385.25 100.14 L386.09 100.08 L386.92 100.03 L387.75 99.97 L388.57 99.93 L389.38 99.88 L390.19 99.84 L391.00 99.80 L391.80 99.76 L392.59 99.73 L393.38 99.70 L394.17 99.67 L394.95 99.64 L395.72 99.62 L396.49 99.60 L397.26 99.58 L398.02 99.57 L398.77 99.56 L399.52 99.55 L400.26 99.54 L401.00 99.54 L401.74 99.54 L402.47 99.54 L403.19 99.54 L403.91 99.55 L404.62 99.56 L405.33 99.57 L406.04 99.59 L406.73 99.60 L407.43 99.62 L408.12 99.64 L408.80 99.67 L409.48 99.70 L410.15 99.73 L410.82 99.76 L411.48 99.79 L412.14 99.83 L412.79 99.87 L413.44 99.91 L414.08 99.95 L414.72 100.00 L415.35 100.04 L415.98 100.10 L416.60 100.15 L417.22 100.20 L417.83 100.26 L418.44 100.32 L419.04 100.38 L419.64 100.44 L420.23 100.51 L420.82 100.58 L421.40 100.65 L421.98 100.72 L422.55 100.79 L423.11 100.87 L423.68 100.94 L424.23 101.02 L424.78 101.11 L425.33 101.19 L425.87 101.27 L426.41 101.36 L426.94 101.45 L427.46 101.54 L427.98 101.63 L428.50 101.73 L429.01 101.83 L429.52 101.92 L430.02 102.02 L430.51 102.13 L431.00 102.23 L431.49 102.34 L431.97 102.44 L432.44 102.55 L432.91 102.66 L433.38 102.77 L433.84 102.89 L434.29 103.00 L434.74 103.12 L435.19 103.24 L435.62 103.36 L436.06 103.48 L436.49 103.60 L436.91 103.73 L437.33 103.85 L437.75 103.98 L438.15 104.11 L438.56 104.24 L438.96 104.37 L439.35 104.50 L439.74 104.63 L440.12 104.77 L440.50 104.91 L440.88 105.04 L441.24 105.18 L441.61 105.32 L441.97 105.47 L442.32 105.61 L442.67 105.75 L443.01 105.90 L443.35 106.05 L443.68 106.19 L444.01 106.34 L444.33 106.49 L444.65 106.64 L444.96 106.80 L445.27 106.95 L445.57 107.10 L445.87 107.26 L446.16 107.41 L446.45 107.57 L446.73 107.73 L447.01 107.89 L447.28 108.05 L447.54 108.21 L447.81 108.37 L448.06 108.53 L448.31 108.70 L448.56 108.86 L448.80 109.03 L449.04 109.19 L449.27 109.36 L449.49 109.53 L449.72 109.69 L449.93 109.86 L450.14 110.03 L450.35 110.20 L450.55 110.38 L450.74 110.55 L450.93 110.72 L451.12 110.89 L451.30 111.07 L451.48 111.24 L451.65 111.42 L451.81 111.59 L451.97 111.77 L452.13 111.94 L452.28 112.12 L452.42 112.30 L452.56 112.48 L452.70 112.65 L452.82 112.83 L452.95 113.01 L453.07 113.19 L453.18 113.37 L453.29 113.55 L453.40 113.73 L453.50 113.92 L453.59 114.10 L453.68 114.28 L453.76 114.46 L453.84 114.64 L453.91 114.83 L453.98 115.01 L454.05 115.19 L454.11 115.38 L454.16 115.56 L454.21 115.74 L454.25 115.93 L454.29 116.11 L454.32 116.29 L454.35 116.48 L454.37 116.66 L454.39 116.85 L454.40 117.03 L454.41 117.22 L454.41 117.40" fill="none" stroke="#ff1414" stroke-width="1.9" stroke-linecap="butt" stroke-linejoin="round" stroke-dasharray="2.2 2.8" />
<circle cx="324.28" cy="8.98" r="2.6" fill="#2a12ff"/>
<text x="272.20" y="13.20" font-family="'Liberation Sans', sans-serif" font-size="12.80px" font-weight="bold" font-style="normal" text-anchor="end" >1.0</text>
<text x="272.20" y="35.04" font-family="'Liberation Sans', sans-serif" font-size="12.80px" font-weight="bold" font-style="normal" text-anchor="end" >0.8</text>
<text x="272.20" y="56.88" font-family="'Liberation Sans', sans-serif" font-size="12.80px" font-weight="bold" font-style="normal" text-anchor="end" >0.6</text>
<text x="272.20" y="78.72" font-family="'Liberation Sans', sans-serif" font-size="12.80px" font-weight="bold" font-style="normal" text-anchor="end" >0.4</text>
<text x="272.20" y="100.56" font-family="'Liberation Sans', sans-serif" font-size="12.80px" font-weight="bold" font-style="normal" text-anchor="end" >0.2</text>
<text x="272.20" y="122.40" font-family="'Liberation Sans', sans-serif" font-size="12.80px" font-weight="bold" font-style="normal" text-anchor="end" >0.0</text>
<text x="278.00" y="133.20" font-family="'Liberation Sans', sans-serif" font-size="12.80px" font-weight="bold" font-style="normal" text-anchor="middle" textLength="8.30" lengthAdjust="spacingAndGlyphs" >0</text>
<text x="311.38" y="133.20" font-family="'Liberation Sans', sans-serif" font-size="12.80px" font-weight="bold" font-style="normal" text-anchor="middle" textLength="8.30" lengthAdjust="spacingAndGlyphs" >2</text>
<text x="344.76" y="133.20" font-family="'Liberation Sans', sans-serif" font-size="12.80px" font-weight="bold" font-style="normal" text-anchor="middle" textLength="8.30" lengthAdjust="spacingAndGlyphs" >4</text>
<text x="378.14" y="133.20" font-family="'Liberation Sans', sans-serif" font-size="12.80px" font-weight="bold" font-style="normal" text-anchor="middle" textLength="8.30" lengthAdjust="spacingAndGlyphs" >6</text>
<text x="411.52" y="133.20" font-family="'Liberation Sans', sans-serif" font-size="12.80px" font-weight="bold" font-style="normal" text-anchor="middle" textLength="8.30" lengthAdjust="spacingAndGlyphs" >8</text>
<text x="444.90" y="133.20" font-family="'Liberation Sans', sans-serif" font-size="12.80px" font-weight="bold" font-style="normal" text-anchor="middle" textLength="15.60" lengthAdjust="spacingAndGlyphs" >10</text>
<text x="338.90" y="152.10" font-family="'Liberation Sans', sans-serif" font-size="13.50px" font-weight="bold" textLength="55.60" lengthAdjust="spacingAndGlyphs">T (10<tspan dy="-4.9" font-size="10.39px">3</tspan><tspan dy="4.9"> K)</tspan></text>
<text transform="translate(245.70 102.60) rotate(-90)" font-family="'Liberation Sans', sans-serif" font-size="13.50px" font-weight="bold" textLength="79.90" lengthAdjust="spacingAndGlyphs">l (units of l<tspan dy="2.2" font-size="9.5px">0</tspan><tspan dy="-2.2">)</tspan></text>
<text x="287.50" y="51.50" font-family="'Liberation Serif', sans-serif" font-size="15.70px" font-weight="normal" font-style="normal" text-anchor="start" >(b)</text>
<path d="M52.50 267.30 v-2.60 M52.50 157.60 v2.60 M60.60 267.30 v-1.50 M60.60 157.60 v1.50 M68.70 267.30 v-1.50 M68.70 157.60 v1.50 M76.80 267.30 v-1.50 M76.80 157.60 v1.50 M84.90 267.30 v-2.60 M84.90 157.60 v2.60 M93.00 267.30 v-1.50 M93.00 157.60 v1.50 M101.10 267.30 v-1.50 M101.10 157.60 v1.50 M109.20 267.30 v-1.50 M109.20 157.60 v1.50 M117.30 267.30 v-2.60 M117.30 157.60 v2.60 M125.40 267.30 v-1.50 M125.40 157.60 v1.50 M133.50 267.30 v-1.50 M133.50 157.60 v1.50 M141.60 267.30 v-1.50 M141.60 157.60 v1.50 M149.70 267.30 v-2.60 M149.70 157.60 v2.60 M157.80 267.30 v-1.50 M157.80 157.60 v1.50 M165.90 267.30 v-1.50 M165.90 157.60 v1.50 M174.00 267.30 v-1.50 M174.00 157.60 v1.50 M182.10 267.30 v-2.60 M182.10 157.60 v2.60 M190.20 267.30 v-1.50 M190.20 157.60 v1.50 M198.30 267.30 v-1.50 M198.30 157.60 v1.50 M206.40 267.30 v-1.50 M206.40 157.60 v1.50 M214.50 267.30 v-2.60 M214.50 157.60 v2.60 M222.60 267.30 v-1.50 M222.60 157.60 v1.50 M48.30 267.40 h2.60 M227.40 267.40 h-2.60 M48.30 263.66 h1.50 M227.40 263.66 h-1.50 M48.30 259.92 h1.50 M227.40 259.92 h-1.50 M48.30 256.18 h1.50 M227.40 256.18 h-1.50 M48.30 252.44 h2.60 M227.40 252.44 h-2.60 M48.30 248.70 h1.50 M227.40 248.70 h-1.50 M48.30 244.96 h1.50 M227.40 244.96 h-1.50 M48.30 241.22 h1.50 M227.40 241.22 h-1.50 M48.30 237.48 h2.60 M227.40 237.48 h-2.60 M48.30 233.74 h1.50 M227.40 233.74 h-1.50 M48.30 230.00 h1.50 M227.40 230.00 h-1.50 M48.30 226.26 h1.50 M227.40 226.26 h-1.50 M48.30 222.52 h2.60 M227.40 222.52 h-2.60 M48.30 218.78 h1.50 M227.40 218.78 h-1.50 M48.30 215.04 h1.50 M227.40 215.04 h-1.50 M48.30 211.30 h1.50 M227.40 211.30 h-1.50 M48.30 207.56 h2.60 M227.40 207.56 h-2.60 M48.30 203.82 h1.50 M227.40 203.82 h-1.50 M48.30 200.08 h1.50 M227.40 200.08 h-1.50 M48.30 196.34 h1.50 M227.40 196.34 h-1.50 M48.30 192.60 h2.60 M227.40 192.60 h-2.60 M48.30 188.86 h1.50 M227.40 188.86 h-1.50 M48.30 185.12 h1.50 M227.40 185.12 h-1.50 M48.30 181.38 h1.50 M227.40 181.38 h-1.50 M48.30 177.64 h2.60 M227.40 177.64 h-2.60 M48.30 173.90 h1.50 M227.40 173.90 h-1.50 M48.30 170.16 h1.50 M227.40 170.16 h-1.50 M48.30 166.42 h1.50 M227.40 166.42 h-1.50 M48.30 162.68 h2.60 M227.40 162.68 h-2.60 M48.30 158.94 h1.50 M227.40 158.94 h-1.50" stroke="#cccccc" stroke-width="0.8" fill="none"/>
<rect x="48.30" y="157.60" width="179.10" height="109.70" fill="none" stroke="#cacaca" stroke-width="0.8"/>
<path d="M48.30 192.60 H227.40" stroke="#d6d6d6" stroke-width="1"/>
<path d="M59.12 191.31 L60.39 191.06 L61.66 190.82 L62.92 190.57 L64.17 190.33 L65.42 190.08 L66.67 189.84 L67.91 189.60 L69.14 189.36 L70.37 189.12 L71.60 188.88 L72.82 188.64 L74.03 188.41 L75.24 188.17 L76.45 187.94 L77.65 187.70 L78.85 187.47 L80.04 187.24 L81.22 187.01 L82.40 186.78 L83.58 186.55 L84.75 186.32 L85.92 186.09 L87.08 185.87 L88.24 185.64 L89.39 185.42 L90.53 185.20 L91.68 184.97 L92.81 184.75 L93.94 184.53 L95.07 184.31 L96.19 184.09 L97.31 183.88 L98.42 183.66 L99.53 183.45 L100.63 183.23 L101.73 183.02 L102.82 182.81 L103.91 182.60 L104.99 182.39 L106.07 182.19 L107.14 181.98 L108.21 181.78 L109.27 181.57 L110.33 181.37 L111.38 181.17 L112.43 180.97 L113.47 180.78 L114.51 180.58 L115.54 180.39 L116.57 180.20 L117.59 180.01 L118.61 179.82 L119.63 179.64 L120.64 179.45 L121.64 179.27 L122.64 179.09 L123.63 178.92 L124.62 178.74 L125.60 178.57 L126.58 178.40 L127.56 178.23 L128.53 178.06 L129.49 177.89 L130.45 177.73 L131.40 177.57 L132.35 177.41 L133.30 177.26 L134.24 177.10 L135.17 176.95 L136.10 176.80 L137.02 176.65 L137.94 176.51 L138.86 176.37 L139.77 176.23 L140.67 176.09 L141.57 175.95 L142.47 175.82 L143.36 175.69 L144.24 175.56 L145.12 175.43 L146.00 175.31 L146.87 175.19 L147.74 175.07 L148.60 174.95 L149.45 174.84 L150.30 174.73 L151.15 174.62 L151.99 174.51 L152.82 174.40 L153.66 174.30 L154.48 174.20 L155.30 174.10 L156.12 174.01 L156.93 173.91 L157.74 173.82 L158.54 173.73 L159.33 173.65 L160.13 173.56 L160.91 173.48 L161.69 173.40 L162.47 173.32 L163.24 173.25 L164.01 173.17 L164.77 173.10 L165.53 173.03 L166.28 172.97 L167.03 172.90 L167.77 172.84 L168.51 172.78 L169.24 172.72 L169.97 172.67 L170.69 172.61 L171.41 172.56 L172.12 172.51 L172.83 172.47 L173.53 172.42 L174.23 172.38 L174.92 172.34 L175.61 172.30 L176.29 172.27 L176.97 172.23 L177.64 172.20 L178.31 172.17 L178.97 172.14 L179.63 172.12 L180.29 172.09 L180.93 172.07 L181.58 172.05 L182.22 172.04 L182.85 172.02 L183.48 172.01 L184.10 172.00 L184.72 171.99 L185.34 171.98 L185.94 171.98 L186.55 171.97 L187.15 171.97 L187.74 171.97 L188.33 171.97 L188.92 171.98 L189.49 171.99 L190.07 171.99 L190.64 172.00 L191.20 172.02 L191.76 172.03 L192.32 172.05 L192.87 172.06 L193.41 172.08 L193.95 172.11 L194.49 172.13 L195.02 172.16 L195.54 172.18 L196.06 172.21 L196.58 172.24 L197.09 172.28 L197.59 172.31 L198.10 172.35 L198.59 172.39 L199.08 172.43 L199.57 172.47 L200.05 172.51 L200.52 172.56 L201.00 172.61 L201.46 172.65 L201.92 172.71 L202.38 172.76 L202.83 172.81 L203.28 172.87 L203.72 172.93 L204.15 172.99 L204.59 173.05 L205.01 173.11 L205.43 173.18 L205.85 173.24 L206.26 173.31 L206.67 173.38 L207.07 173.45 L207.47 173.52 L207.86 173.60 L208.25 173.68 L208.63 173.75 L209.01 173.83 L209.38 173.92 L209.75 174.00 L210.11 174.08 L210.47 174.17 L210.82 174.26 L211.17 174.35 L211.51 174.44 L211.85 174.53 L212.18 174.63 L212.51 174.72 L212.83 174.82 L213.15 174.92 L213.46 175.02 L213.77 175.12 L214.07 175.23 L214.37 175.33 L214.66 175.44 L214.95 175.55 L215.24 175.66 L215.52 175.77 L215.79 175.88 L216.06 176.00 L216.32 176.11 L216.58 176.23 L216.83 176.35 L217.08 176.47 L217.33 176.59 L217.57 176.71 L217.80 176.84 L218.03 176.97 L218.25 177.09 L218.47 177.22 L218.69 177.35 L218.90 177.49 L219.10 177.62 L219.30 177.76 L219.50 177.89 L219.69 178.03 L219.87 178.17 L220.05 178.31 L220.23 178.45 L220.40 178.60 L220.56 178.74 L220.72 178.89 L220.88 179.04 L221.03 179.19 L221.17 179.34 L221.31 179.49 L221.45 179.64 L221.58 179.80 L221.71 179.95 L221.83 180.11 L221.94 180.27 L222.05 180.43 L222.16 180.59 L222.26 180.75 L222.36 180.92 L222.45 181.08 L222.54 181.25 L222.62 181.42 L222.69 181.59 L222.76 181.76 L222.83 181.93 L222.89 182.11 L222.95 182.28 L223.00 182.46 L223.05 182.64 L223.09 182.81 L223.13 182.99 L223.16 183.18 L223.19 183.36 L223.21 183.54 L223.23 183.73 L223.24 183.92 L223.25 184.11 L223.25 184.29" fill="none" stroke="#c30cf7" stroke-width="1.75" stroke-linecap="butt" stroke-linejoin="round" />
<path d="M59.12 265.24 L60.39 264.83 L61.66 264.41 L62.92 263.99 L64.17 263.58 L65.42 263.17 L66.67 262.76 L67.91 262.34 L69.14 261.93 L70.37 261.52 L71.60 261.11 L72.82 260.71 L74.03 260.30 L75.24 259.89 L76.45 259.49 L77.65 259.08 L78.85 258.68 L80.04 258.27 L81.22 257.87 L82.40 257.47 L83.58 257.07 L84.75 256.67 L85.92 256.27 L87.08 255.87 L88.24 255.47 L89.39 255.08 L90.53 254.68 L91.68 254.29 L92.81 253.89 L93.94 253.50 L95.07 253.10 L96.19 252.71 L97.31 252.32 L98.42 251.93 L99.53 251.54 L100.63 251.15 L101.73 250.76 L102.82 250.37 L103.91 249.99 L104.99 249.60 L106.07 249.21 L107.14 248.83 L108.21 248.44 L109.27 248.06 L110.33 247.68 L111.38 247.30 L112.43 246.91 L113.47 246.53 L114.51 246.15 L115.54 245.77 L116.57 245.40 L117.59 245.02 L118.61 244.64 L119.63 244.26 L120.64 243.89 L121.64 243.51 L122.64 243.14 L123.63 242.77 L124.62 242.39 L125.60 242.02 L126.58 241.65 L127.56 241.28 L128.53 240.91 L129.49 240.54 L130.45 240.17 L131.40 239.80 L132.35 239.44 L133.30 239.07 L134.24 238.70 L135.17 238.34 L136.10 237.97 L137.02 237.61 L137.94 237.25 L138.86 236.89 L139.77 236.52 L140.67 236.16 L141.57 235.80 L142.47 235.44 L143.36 235.09 L144.24 234.73 L145.12 234.37 L146.00 234.01 L146.87 233.66 L147.74 233.30 L148.60 232.95 L149.45 232.59 L150.30 232.24 L151.15 231.89 L151.99 231.54 L152.82 231.19 L153.66 230.84 L154.48 230.49 L155.30 230.14 L156.12 229.79 L156.93 229.44 L157.74 229.10 L158.54 228.75 L159.33 228.40 L160.13 228.06 L160.91 227.72 L161.69 227.37 L162.47 227.03 L163.24 226.69 L164.01 226.35 L164.77 226.01 L165.53 225.67 L166.28 225.33 L167.03 224.99 L167.77 224.66 L168.51 224.32 L169.24 223.99 L169.97 223.65 L170.69 223.32 L171.41 222.98 L172.12 222.65 L172.83 222.32 L173.53 221.99 L174.23 221.66 L174.92 221.33 L175.61 221.00 L176.29 220.68 L176.97 220.35 L177.64 220.02 L178.31 219.70 L178.97 219.37 L179.63 219.05 L180.29 218.73 L180.93 218.40 L181.58 218.08 L182.22 217.76 L182.85 217.44 L183.48 217.12 L184.10 216.81 L184.72 216.49 L185.34 216.17 L185.94 215.86 L186.55 215.54 L187.15 215.23 L187.74 214.91 L188.33 214.60 L188.92 214.29 L189.49 213.98 L190.07 213.67 L190.64 213.36 L191.20 213.05 L191.76 212.75 L192.32 212.44 L192.87 212.13 L193.41 211.83 L193.95 211.53 L194.49 211.22 L195.02 210.92 L195.54 210.62 L196.06 210.32 L196.58 210.02 L197.09 209.72 L197.59 209.42 L198.10 209.13 L198.59 208.83 L199.08 208.54 L199.57 208.24 L200.05 207.95 L200.52 207.66 L201.00 207.37 L201.46 207.08 L201.92 206.79 L202.38 206.50 L202.83 206.21 L203.28 205.92 L203.72 205.64 L204.15 205.35 L204.59 205.07 L205.01 204.78 L205.43 204.50 L205.85 204.22 L206.26 203.94 L206.67 203.66 L207.07 203.38 L207.47 203.11 L207.86 202.83 L208.25 202.55 L208.63 202.28 L209.01 202.00 L209.38 201.73 L209.75 201.46 L210.11 201.19 L210.47 200.92 L210.82 200.65 L211.17 200.38 L211.51 200.12 L211.85 199.85 L212.18 199.59 L212.51 199.32 L212.83 199.06 L213.15 198.80 L213.46 198.54 L213.77 198.28 L214.07 198.02 L214.37 197.76 L214.66 197.50 L214.95 197.25 L215.24 196.99 L215.52 196.74 L215.79 196.49 L216.06 196.23 L216.32 195.98 L216.58 195.74 L216.83 195.49 L217.08 195.24 L217.33 194.99 L217.57 194.75 L217.80 194.50 L218.03 194.26 L218.25 194.02 L218.47 193.78 L218.69 193.54 L218.90 193.30 L219.10 193.06 L219.30 192.82 L219.50 192.59 L219.69 192.35 L219.87 192.12 L220.05 191.89 L220.23 191.66 L220.40 191.43 L220.56 191.20 L220.72 190.97 L220.88 190.74 L221.03 190.52 L221.17 190.29 L221.31 190.07 L221.45 189.85 L221.58 189.63 L221.71 189.41 L221.83 189.19 L221.94 188.97 L222.05 188.75 L222.16 188.54 L222.26 188.32 L222.36 188.11 L222.45 187.90 L222.54 187.69 L222.62 187.48 L222.69 187.27 L222.76 187.06 L222.83 186.86 L222.89 186.65 L222.95 186.45 L223.00 186.25 L223.05 186.04 L223.09 185.84 L223.13 185.64 L223.16 185.45 L223.19 185.25 L223.21 185.06 L223.23 184.86 L223.24 184.67 L223.25 184.47 L223.25 184.29" fill="none" stroke="#1c7dfb" stroke-width="1.75" stroke-linecap="butt" stroke-linejoin="round" />
<path d="M58.17 191.50 L60.26 191.09 L62.35 190.68 L64.44 190.28 L66.53 189.87 L68.62 189.46 L70.71 189.06 L72.80 188.65 L74.89 188.24 L76.98 187.83 L79.07 187.43 L81.16 187.02 L83.25 186.61 L85.33 186.21 L87.42 185.80 L89.51 185.39 L91.60 184.99 L93.69 184.58 L95.78 184.17 L97.87 183.77 L99.96 183.36 L102.05 182.95 L104.14 182.55 L106.23 182.14 L108.32 181.73 L110.41 181.33 L112.50 180.92 L114.59 180.51 L116.68 180.10 L118.77 179.70 L120.86 179.29 L122.95 178.88 L125.04 178.48 L127.13 178.07 L129.22 177.66 L131.31 177.26 L133.40 176.85 L135.49 176.44 L137.57 176.04 L139.66 175.63 L141.75 175.22 L143.84 174.82 L145.93 174.41 L148.02 174.00 L150.11 173.60 L152.20 173.19 L154.29 172.78 L156.38 172.37 L158.47 171.97 L160.56 171.56 L162.65 171.15 L164.74 170.75 L166.83 170.34 L168.92 169.93 L171.01 169.53 L173.10 169.12 L175.19 168.71 L177.28 168.31 L179.37 167.90 L181.46 167.49 L183.55 167.09 L185.64 166.68 L187.72 166.27 L189.81 165.87 L191.90 165.46 L193.99 165.05 L196.08 164.64 L198.17 164.24 L200.26 163.83 L202.35 163.42 L204.44 163.02 L206.53 162.61 L208.62 162.20 L210.71 161.80 L212.80 161.39 L214.89 160.98 L216.98 160.58 L219.07 160.17 L221.16 159.76 L223.25 159.36" fill="none" stroke="#ff0a96" stroke-width="1.8" stroke-linecap="butt" stroke-linejoin="round" stroke-dasharray="6.3 2.7" />
<path d="M58.17 265.56 L60.26 264.88 L62.35 264.20 L64.44 263.53 L66.53 262.85 L68.62 262.17 L70.71 261.49 L72.80 260.81 L74.89 260.14 L76.98 259.46 L79.07 258.78 L81.16 258.10 L83.25 257.42 L85.33 256.75 L87.42 256.07 L89.51 255.39 L91.60 254.71 L93.69 254.03 L95.78 253.35 L97.87 252.68 L99.96 252.00 L102.05 251.32 L104.14 250.64 L106.23 249.96 L108.32 249.29 L110.41 248.61 L112.50 247.93 L114.59 247.25 L116.68 246.57 L118.77 245.90 L120.86 245.22 L122.95 244.54 L125.04 243.86 L127.13 243.18 L129.22 242.51 L131.31 241.83 L133.40 241.15 L135.49 240.47 L137.57 239.79 L139.66 239.12 L141.75 238.44 L143.84 237.76 L145.93 237.08 L148.02 236.40 L150.11 235.73 L152.20 235.05 L154.29 234.37 L156.38 233.69 L158.47 233.01 L160.56 232.33 L162.65 231.66 L164.74 230.98 L166.83 230.30 L168.92 229.62 L171.01 228.94 L173.10 228.27 L175.19 227.59 L177.28 226.91 L179.37 226.23 L181.46 225.55 L183.55 224.88 L185.64 224.20 L187.72 223.52 L189.81 222.84 L191.90 222.16 L193.99 221.49 L196.08 220.81 L198.17 220.13 L200.26 219.45 L202.35 218.77 L204.44 218.10 L206.53 217.42 L208.62 216.74 L210.71 216.06 L212.80 215.38 L214.89 214.70 L216.98 214.03 L219.07 213.35 L221.16 212.67 L223.25 211.99" fill="none" stroke="#3a14f2" stroke-width="1.8" stroke-linecap="butt" stroke-linejoin="round" stroke-dasharray="6.45 3.1" stroke-dashoffset="0.6"/>
<text x="46.50" y="167.08" font-family="'Liberation Sans', sans-serif" font-size="12.80px" font-weight="bold" font-style="normal" text-anchor="end" >0.4</text>
<text x="46.50" y="182.04" font-family="'Liberation Sans', sans-serif" font-size="12.80px" font-weight="bold" font-style="normal" text-anchor="end" >0.2</text>
<text x="46.50" y="197.00" font-family="'Liberation Sans', sans-serif" font-size="12.80px" font-weight="bold" font-style="normal" text-anchor="end" >0.0</text>
<text x="46.50" y="211.96" font-family="'Liberation Sans', sans-serif" font-size="12.80px" font-weight="bold" font-style="normal" text-anchor="end" textLength="27.40" lengthAdjust="spacingAndGlyphs" >−0.2</text>
<text x="46.50" y="226.92" font-family="'Liberation Sans', sans-serif" font-size="12.80px" font-weight="bold" font-style="normal" text-anchor="end" textLength="27.40" lengthAdjust="spacingAndGlyphs" >−0.4</text>
<text x="46.50" y="241.88" font-family="'Liberation Sans', sans-serif" font-size="12.80px" font-weight="bold" font-style="normal" text-anchor="end" textLength="27.40" lengthAdjust="spacingAndGlyphs" >−0.6</text>
<text x="46.50" y="256.84" font-family="'Liberation Sans', sans-serif" font-size="12.80px" font-weight="bold" font-style="normal" text-anchor="end" textLength="27.40" lengthAdjust="spacingAndGlyphs" >−0.8</text>
<text x="46.50" y="271.80" font-family="'Liberation Sans', sans-serif" font-size="12.80px" font-weight="bold" font-style="normal" text-anchor="end" textLength="27.40" lengthAdjust="spacingAndGlyphs" >−1.0</text>
<text x="52.00" y="281.00" font-family="'Liberation Sans', sans-serif" font-size="12.80px" font-weight="bold" font-style="normal" text-anchor="middle" textLength="8.30" lengthAdjust="spacingAndGlyphs" >0</text>
<text x="84.40" y="281.00" font-family="'Liberation Sans', sans-serif" font-size="12.80px" font-weight="bold" font-style="normal" text-anchor="middle" textLength="8.30" lengthAdjust="spacingAndGlyphs" >2</text>
<text x="116.80" y="281.00" font-family="'Liberation Sans', sans-serif" font-size="12.80px" font-weight="bold" font-style="normal" text-anchor="middle" textLength="8.30" lengthAdjust="spacingAndGlyphs" >4</text>
<text x="149.20" y="281.00" font-family="'Liberation Sans', sans-serif" font-size="12.80px" font-weight="bold" font-style="normal" text-anchor="middle" textLength="8.30" lengthAdjust="spacingAndGlyphs" >6</text>
<text x="181.60" y="281.00" font-family="'Liberation Sans', sans-serif" font-size="12.80px" font-weight="bold" font-style="normal" text-anchor="middle" textLength="8.30" lengthAdjust="spacingAndGlyphs" >8</text>
<text x="214.00" y="281.00" font-family="'Liberation Sans', sans-serif" font-size="12.80px" font-weight="bold" font-style="normal" text-anchor="middle" textLength="15.60" lengthAdjust="spacingAndGlyphs" >10</text>
<text x="110.00" y="300.60" font-family="'Liberation Sans', sans-serif" font-size="13.50px" font-weight="bold" textLength="55.80" lengthAdjust="spacingAndGlyphs">T (10<tspan dy="-4.9" font-size="10.39px">3</tspan><tspan dy="4.9"> K)</tspan></text>
<text transform="translate(11.80 254.00) rotate(-90)" font-family="'Liberation Sans', sans-serif" font-size="13.50px" font-weight="bold" textLength="83.10" lengthAdjust="spacingAndGlyphs">e (units of l<tspan dy="2.2" font-size="9.5px">0</tspan><tspan dy="-2.2">)</tspan></text>
<text x="57.50" y="212.00" font-family="'Liberation Serif', sans-serif" font-size="15.70px" font-weight="normal" font-style="normal" text-anchor="start" >(c)</text>
<text x="154.70" y="183.70" font-family="'Liberation Serif', sans-serif" font-size="13.50px" font-weight="normal" font-style="italic" text-anchor="start" >e<tspan dx="0.5" dy="1.6" font-size="9.8px">g</tspan></text>
<text x="155.00" y="221.20" font-family="'Liberation Serif', sans-serif" font-size="13.50px" font-weight="normal" font-style="italic" text-anchor="start" >e<tspan dx="0.5" dy="2.4" font-size="10.5px">l</tspan></text>
<path d="M283.40 267.40 v-2.60 M283.40 156.20 v2.60 M291.61 267.40 v-1.50 M291.61 156.20 v1.50 M299.83 267.40 v-1.50 M299.83 156.20 v1.50 M308.04 267.40 v-1.50 M308.04 156.20 v1.50 M316.26 267.40 v-2.60 M316.26 156.20 v2.60 M324.47 267.40 v-1.50 M324.47 156.20 v1.50 M332.69 267.40 v-1.50 M332.69 156.20 v1.50 M340.90 267.40 v-1.50 M340.90 156.20 v1.50 M349.12 267.40 v-2.60 M349.12 156.20 v2.60 M357.33 267.40 v-1.50 M357.33 156.20 v1.50 M365.55 267.40 v-1.50 M365.55 156.20 v1.50 M373.76 267.40 v-1.50 M373.76 156.20 v1.50 M381.98 267.40 v-2.60 M381.98 156.20 v2.60 M390.19 267.40 v-1.50 M390.19 156.20 v1.50 M398.41 267.40 v-1.50 M398.41 156.20 v1.50 M406.62 267.40 v-1.50 M406.62 156.20 v1.50 M414.84 267.40 v-2.60 M414.84 156.20 v2.60 M423.05 267.40 v-1.50 M423.05 156.20 v1.50 M431.27 267.40 v-1.50 M431.27 156.20 v1.50 M439.49 267.40 v-1.50 M439.49 156.20 v1.50 M447.70 267.40 v-2.60 M447.70 156.20 v2.60 M455.91 267.40 v-1.50 M455.91 156.20 v1.50 M280.50 265.10 h2.60 M459.60 265.10 h-2.60 M280.50 258.78 h1.50 M459.60 258.78 h-1.50 M280.50 252.46 h1.50 M459.60 252.46 h-1.50 M280.50 246.14 h1.50 M459.60 246.14 h-1.50 M280.50 239.82 h1.50 M459.60 239.82 h-1.50 M280.50 233.50 h2.60 M459.60 233.50 h-2.60 M280.50 227.18 h1.50 M459.60 227.18 h-1.50 M280.50 220.86 h1.50 M459.60 220.86 h-1.50 M280.50 214.54 h1.50 M459.60 214.54 h-1.50 M280.50 208.22 h1.50 M459.60 208.22 h-1.50 M280.50 201.90 h2.60 M459.60 201.90 h-2.60 M280.50 195.58 h1.50 M459.60 195.58 h-1.50 M280.50 189.26 h1.50 M459.60 189.26 h-1.50 M280.50 182.94 h1.50 M459.60 182.94 h-1.50 M280.50 176.62 h1.50 M459.60 176.62 h-1.50 M280.50 170.30 h2.60 M459.60 170.30 h-2.60 M280.50 163.98 h1.50 M459.60 163.98 h-1.50 M280.50 157.66 h1.50 M459.60 157.66 h-1.50" stroke="#cccccc" stroke-width="0.8" fill="none"/>
<rect x="280.50" y="156.20" width="179.10" height="111.20" fill="none" stroke="#cacaca" stroke-width="0.8"/>
<path d="M283.40 158.10 L285.59 159.81 L287.78 161.52 L289.98 163.22 L292.17 164.91 L294.36 166.60 L296.55 168.28 L298.74 169.95 L300.94 171.62 L303.13 173.28 L305.32 174.94 L307.51 176.59 L309.70 178.23 L311.90 179.87 L314.09 181.50 L316.28 183.12 L318.47 184.74 L320.66 186.35 L322.86 187.95 L325.05 189.55 L327.24 191.14 L329.43 192.72 L331.63 194.30 L333.82 195.86 L336.01 197.42 L338.20 198.98 L340.39 200.52 L342.59 202.06 L344.78 203.59 L346.97 205.11 L349.16 206.62 L351.35 208.13 L353.55 209.63 L355.74 211.12 L357.93 212.60 L360.12 214.07 L362.31 215.53 L364.51 216.98 L366.70 218.43 L368.89 219.86 L371.08 221.29 L373.27 222.71 L375.47 224.11 L377.66 225.51 L379.85 226.89 L382.04 228.27 L384.23 229.64 L386.43 230.99 L388.62 232.33 L390.81 233.66 L393.00 234.98 L395.19 236.29 L397.39 237.59 L399.58 238.87 L401.77 240.14 L403.96 241.39 L406.15 242.64 L408.35 243.87 L410.54 245.08 L412.73 246.28 L414.92 247.46 L417.12 248.63 L419.31 249.78 L421.50 250.91 L423.69 252.02 L425.88 253.11 L428.08 254.19 L430.27 255.24 L432.46 256.26 L434.65 257.27 L436.84 258.25 L439.04 259.19 L441.23 260.11 L443.42 261.00 L445.61 261.84 L447.80 262.64 L450.00 263.39 L452.19 264.08 L454.38 264.67 L456.57 265.10" fill="none" stroke="#4eab3a" stroke-width="1.5" stroke-linecap="butt" stroke-linejoin="round" />
<circle cx="299.10" cy="170.60" r="2.6" fill="#2a12ff"/>
<text x="278.30" y="175.10" font-family="'Liberation Sans', sans-serif" font-size="12.80px" font-weight="bold" font-style="normal" text-anchor="end" textLength="27.20" lengthAdjust="spacingAndGlyphs" >0.15</text>
<text x="278.30" y="206.70" font-family="'Liberation Sans', sans-serif" font-size="12.80px" font-weight="bold" font-style="normal" text-anchor="end" textLength="27.20" lengthAdjust="spacingAndGlyphs" >0.10</text>
<text x="278.30" y="238.30" font-family="'Liberation Sans', sans-serif" font-size="12.80px" font-weight="bold" font-style="normal" text-anchor="end" textLength="27.20" lengthAdjust="spacingAndGlyphs" >0.05</text>
<text x="278.30" y="269.90" font-family="'Liberation Sans', sans-serif" font-size="12.80px" font-weight="bold" font-style="normal" text-anchor="end" textLength="27.20" lengthAdjust="spacingAndGlyphs" >0.00</text>
<text x="282.90" y="281.00" font-family="'Liberation Sans', sans-serif" font-size="12.80px" font-weight="bold" font-style="normal" text-anchor="middle" textLength="8.30" lengthAdjust="spacingAndGlyphs" >0</text>
<text x="315.76" y="281.00" font-family="'Liberation Sans', sans-serif" font-size="12.80px" font-weight="bold" font-style="normal" text-anchor="middle" textLength="8.30" lengthAdjust="spacingAndGlyphs" >2</text>
<text x="348.62" y="281.00" font-family="'Liberation Sans', sans-serif" font-size="12.80px" font-weight="bold" font-style="normal" text-anchor="middle" textLength="8.30" lengthAdjust="spacingAndGlyphs" >4</text>
<text x="381.48" y="281.00" font-family="'Liberation Sans', sans-serif" font-size="12.80px" font-weight="bold" font-style="normal" text-anchor="middle" textLength="8.30" lengthAdjust="spacingAndGlyphs" >6</text>
<text x="414.34" y="281.00" font-family="'Liberation Sans', sans-serif" font-size="12.80px" font-weight="bold" font-style="normal" text-anchor="middle" textLength="8.30" lengthAdjust="spacingAndGlyphs" >8</text>
<text x="447.20" y="281.00" font-family="'Liberation Sans', sans-serif" font-size="12.80px" font-weight="bold" font-style="normal" text-anchor="middle" textLength="15.60" lengthAdjust="spacingAndGlyphs" >10</text>
<text x="342.40" y="300.60" font-family="'Liberation Sans', sans-serif" font-size="13.50px" font-weight="bold" textLength="55.70" lengthAdjust="spacingAndGlyphs">T (10<tspan dy="-4.9" font-size="10.39px">3</tspan><tspan dy="4.9"> K)</tspan></text>
<text transform="translate(244.60 267.00) rotate(-90)" font-family="'Liberation Sans', sans-serif" font-size="13.50px" font-weight="bold" textLength="110.00" lengthAdjust="spacingAndGlyphs"><tspan font-family="'Liberation Serif', serif" font-style="italic" font-weight="normal" font-size="15px">σ</tspan> (units of a/b<tspan dy="-5.2" font-size="8.8px">5/3</tspan><tspan dy="5.2">)</tspan></text>
<text x="290.50" y="212.40" font-family="'Liberation Serif', sans-serif" font-size="15.90px" font-weight="normal" font-style="normal" text-anchor="start" >(d)</text>
</svg>
</body></html>
